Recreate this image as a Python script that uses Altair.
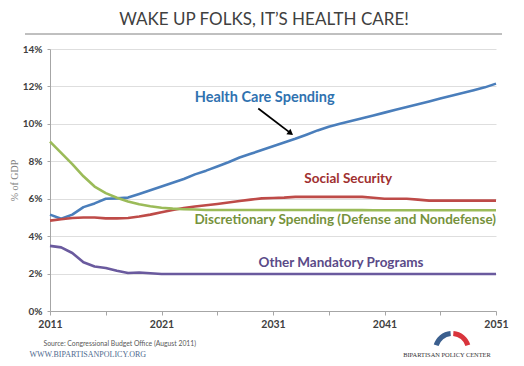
import altair as alt
import pandas as pd

years = list(range(2011, 2052))
health = [5.15, 4.93, 5.15, 5.55, 5.75, 6.0, 6.02, 6.06, 6.25, 6.45, 6.65, 6.85, 7.05, 7.3, 7.5,
          7.72, 7.95, 8.2, 8.4, 8.6, 8.8, 9.0, 9.2, 9.42, 9.65, 9.85, 10.0, 10.15, 10.3, 10.45,
          10.6, 10.75, 10.9, 11.05, 11.2, 11.35, 11.5, 11.65, 11.8, 11.95, 12.15]
social = [4.83, 4.9, 4.97, 5.0, 5.0, 4.95, 4.95, 4.97, 5.05, 5.15, 5.28, 5.4, 5.5, 5.58, 5.65,
          5.72, 5.8, 5.88, 5.95, 6.02, 6.04, 6.06, 6.1, 6.1, 6.1, 6.1, 6.1, 6.1, 6.1, 6.05,
          6.0, 6.0, 6.0, 5.95, 5.9, 5.9, 5.9, 5.9, 5.9, 5.9, 5.9]
discretionary = [9.05, 8.45, 7.85, 7.2, 6.65, 6.3, 6.05, 5.85, 5.7, 5.6, 5.52, 5.47, 5.44, 5.42, 5.4,
                 5.4, 5.4, 5.4, 5.4, 5.4, 5.4, 5.4, 5.4, 5.4, 5.4, 5.39, 5.39, 5.39, 5.39, 5.38,
                 5.38, 5.38, 5.38, 5.38, 5.38, 5.38, 5.38, 5.38, 5.38, 5.38, 5.38]
other = [3.48, 3.4, 3.1, 2.6, 2.38, 2.3, 2.15, 2.03, 2.06, 2.02, 1.98, 1.98, 1.98, 1.98, 1.98,
         1.98, 1.98, 1.98, 1.98, 1.98, 1.98, 1.98, 1.98, 1.98, 1.98, 1.98, 1.98, 1.98, 1.98, 1.98,
         1.98, 1.98, 1.98, 1.98, 1.98, 1.98, 1.98, 1.98, 1.98, 1.98, 1.98]

series_names = ["Health Care Spending", "Social Security",
                "Discretionary Spending (Defense and Nondefense)", "Other Mandatory Programs"]
line_colors = ["#4a7ebb", "#be4b48", "#9bbb59", "#6a5a9e"]
label_colors = ["#2f72b0", "#a0302f", "#76923c", "#5a4a88"]

# label anchor positions (year, value) and alignment
label_years = [2030.25, 2037.75, 2051, 2037.1]
label_values = [11.37, 7.08, 4.84, 2.59]
label_aligns = ["center", "center", "right", "center"]
label_sizes = [14.5, 13.5, 13.5, 13.5]

arrow_years = [2029.68, 2032.52]
arrow_values = [10.82, 9.53]

x_ticks = [2011, 2016, 2021, 2026, 2031, 2036, 2041, 2046, 2051]
y_ticks = [0, 2, 4, 6, 8, 10, 12, 14]

df = pd.DataFrame({"year": years, "Health Care Spending": health, "Social Security": social,
                   "Discretionary Spending (Defense and Nondefense)": discretionary,
                   "Other Mandatory Programs": other})
long = df.melt("year", var_name="series", value_name="value")

W, H = 446, 262

xscale = alt.Scale(domain=[2011, 2051], nice=False, zero=False)
yscale = alt.Scale(domain=[0, 14], nice=False)

base_font = "Lato"

x_axis = alt.Axis(values=x_ticks, title=None, grid=False, format="d",
                  labelExpr="(datum.value - 2011) % 10 == 0 ? datum.label : ''",
                  labelFont=base_font, labelFontWeight="bold", labelFontSize=10.5,
                  labelColor="#404040", labelPadding=4, tickSize=4, labelOverlap=False,
                  tickColor="#a6a6a6", domainColor="#a6a6a6", labelFlush=False)
y_axis = alt.Axis(values=y_ticks, labelExpr="datum.value + '%'", title="% of GDP",
                  titleFont="Liberation Serif", titleFontWeight="normal", titleFontSize=10,
                  titleColor="#808080", titlePadding=3, labelOverlap=False,
                  labelFont=base_font, labelFontWeight="bold", labelFontSize=10,
                  labelColor="#404040", labelPadding=5, tickSize=3,
                  tickColor="#a6a6a6", domainColor="#a6a6a6",
                  gridColor="#dedede", gridWidth=1)


def xq():
    return alt.X("year:Q", scale=xscale, axis=x_axis)


def yq():
    return alt.Y("value:Q", scale=yscale, axis=y_axis)


lines = alt.Chart(long).mark_line(strokeWidth=2.6, strokeJoin="round").encode(
    x=xq(), y=yq(),
    color=alt.Color("series:N", scale=alt.Scale(domain=series_names, range=line_colors), legend=None),
    detail="series:N",
)

lab_df = pd.DataFrame({"series": series_names, "year": label_years, "value": label_values})

labels = []
for i in range(4):
    labels.append(
        alt.Chart(lab_df.iloc[[i]]).mark_text(
            font=base_font, fontWeight="bold", fontSize=label_sizes[i], align=label_aligns[i],
            baseline="middle", color=label_colors[i]
        ).encode(x=xq(), y=yq(), text="series:N")
    )

arrow_df = pd.DataFrame({"year": arrow_years, "value": arrow_values})
arrow_line = alt.Chart(arrow_df).mark_line(color="black", strokeWidth=1.8).encode(x=xq(), y=yq())
arrow_head = alt.Chart(arrow_df.iloc[[1]]).mark_point(
    shape="triangle", filled=True, color="black", size=45, angle=127, opacity=1
).encode(x=xq(), y=yq())

title_text = alt.Chart(pd.DataFrame({"t": ["WAKE UP FOLKS, IT\u2019S HEALTH CARE!"]})).mark_text(
    font=base_font, fontSize=17, color="#404040", align="center", baseline="alphabetic"
).encode(x=alt.value(214), y=alt.value(-24.5), text="t:N")

title_rule = alt.Chart(pd.DataFrame({"a": [0]})).mark_rule(color="#808080", strokeWidth=1).encode(
    x=alt.value(-25), x2=alt.value(452), y=alt.value(-15))

source_text = alt.Chart(pd.DataFrame({"t": ["Source: Congressional Budget Office (August 2011)"]})).mark_text(
    font=base_font, fontSize=6.8, color="#595959", align="left", baseline="middle"
).encode(x=alt.value(-6.5), y=alt.value(294.5), text="t:N")

www_text = alt.Chart(pd.DataFrame({"t": ["WWW.BIPARTISANPOLICY.ORG"]})).mark_text(
    font="Liberation Serif", fontSize=8, color="#4f6a8f", align="left", baseline="middle"
).encode(x=alt.value(-20.5), y=alt.value(306), text="t:N")

bpc_text = alt.Chart(pd.DataFrame({"t": ["BIPARTISAN POLICY CENTER"]})).mark_text(
    font="Liberation Serif", fontSize=6.4, color="#333333", align="center", baseline="middle"
).encode(x=alt.value(397), y=alt.value(305.5), text="t:N")

arc_blue = alt.Chart(pd.DataFrame({"a": [0]})).mark_arc(color="#3b5f8e").encode(
    x=alt.value(402), y=alt.value(301), radius=alt.value(19), radius2=alt.value(14),
    theta=alt.value(5.0), theta2=alt.value(6.2))
arc_red = alt.Chart(pd.DataFrame({"a": [0]})).mark_arc(color="#d9343c").encode(
    x=alt.value(402), y=alt.value(301), radius=alt.value(19), radius2=alt.value(14),
    theta=alt.value(0.08), theta2=alt.value(1.28))

chart = alt.layer(
    lines, *labels, arrow_line, arrow_head, title_text, title_rule,
    source_text, www_text, bpc_text, arc_blue, arc_red
).properties(
    width=W, height=H,
    autosize=alt.AutoSizeParams(type="none"),
    padding={"left": 42, "top": 41, "right": 20, "bottom": 47},
    background="white",
).configure_view(stroke=None)

chart.save("out.html", embed_options={"renderer": "svg", "actions": False})
